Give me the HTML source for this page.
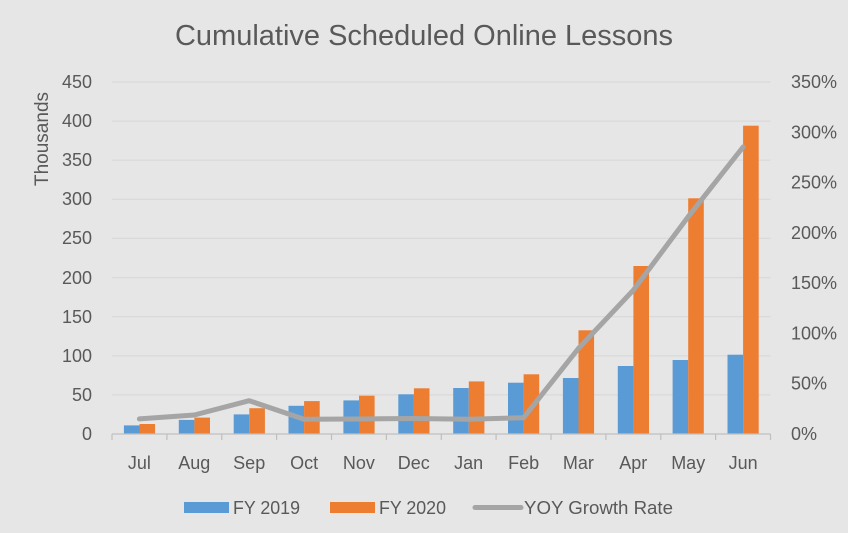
<!DOCTYPE html>
<html><head><meta charset="utf-8"><style>
html,body{margin:0;padding:0;background:#e7e6e6;}
svg{display:block;font-family:"Liberation Sans",Arial,sans-serif;}
</style></head><body>
<svg width="848" height="533" viewBox="0 0 848 533" xmlns="http://www.w3.org/2000/svg">
<rect x="0" y="0" width="848" height="533" fill="#e7e6e6"/>
<text x="424" y="45" text-anchor="middle" font-size="29" fill="#595959" textLength="498" lengthAdjust="spacingAndGlyphs">Cumulative Scheduled Online Lessons</text>
<g stroke="#d9d9d9" stroke-width="1.2">
<line x1="112" y1="82" x2="770.5" y2="82"/>
<line x1="112" y1="121.1" x2="770.5" y2="121.1"/>
<line x1="112" y1="160.2" x2="770.5" y2="160.2"/>
<line x1="112" y1="199.3" x2="770.5" y2="199.3"/>
<line x1="112" y1="238.4" x2="770.5" y2="238.4"/>
<line x1="112" y1="277.6" x2="770.5" y2="277.6"/>
<line x1="112" y1="316.7" x2="770.5" y2="316.7"/>
<line x1="112" y1="355.8" x2="770.5" y2="355.8"/>
<line x1="112" y1="394.9" x2="770.5" y2="394.9"/>
</g>
<g fill="#595959" font-size="18" text-anchor="end">
<text x="92" y="88">450</text>
<text x="92" y="127">400</text>
<text x="92" y="166">350</text>
<text x="92" y="205">300</text>
<text x="92" y="244">250</text>
<text x="92" y="284">200</text>
<text x="92" y="323">150</text>
<text x="92" y="362">100</text>
<text x="92" y="401">50</text>
<text x="92" y="440">0</text>
</g>
<g fill="#595959" font-size="18" text-anchor="start">
<text x="791" y="88">350%</text>
<text x="791" y="138.3">300%</text>
<text x="791" y="188.6">250%</text>
<text x="791" y="238.9">200%</text>
<text x="791" y="289">150%</text>
<text x="791" y="339.4">100%</text>
<text x="791" y="389.7">50%</text>
<text x="791" y="440">0%</text>
</g>
<text transform="translate(48,139) rotate(-90)" text-anchor="middle" font-size="19" fill="#595959">Thousands</text>
<g id="bars"></g>
<g>
<!-- bars: center c = 112 + 54.875*(i+0.5); scale 0.7822 px/unit -->
<rect x="123.9" y="425.4" width="15.6" height="8.6" fill="#5b9bd5"/><rect x="139.5" y="424.0" width="15.6" height="10.0" fill="#ed7d31"/>
<rect x="178.8" y="419.9" width="15.6" height="14.1" fill="#5b9bd5"/><rect x="194.4" y="417.6" width="15.6" height="16.4" fill="#ed7d31"/>
<rect x="233.7" y="414.4" width="15.6" height="19.6" fill="#5b9bd5"/><rect x="249.3" y="408.2" width="15.6" height="25.8" fill="#ed7d31"/>
<rect x="288.5" y="405.8" width="15.6" height="28.2" fill="#5b9bd5"/><rect x="304.1" y="401.1" width="15.6" height="32.9" fill="#ed7d31"/>
<rect x="343.4" y="400.4" width="15.6" height="33.6" fill="#5b9bd5"/><rect x="359.0" y="395.7" width="15.6" height="38.3" fill="#ed7d31"/>
<rect x="398.3" y="394.3" width="15.6" height="39.7" fill="#5b9bd5"/><rect x="413.9" y="388.3" width="15.6" height="45.7" fill="#ed7d31"/>
<rect x="453.2" y="388.0" width="15.6" height="46.0" fill="#5b9bd5"/><rect x="468.8" y="381.4" width="15.6" height="52.6" fill="#ed7d31"/>
<rect x="508.0" y="382.7" width="15.6" height="51.3" fill="#5b9bd5"/><rect x="523.6" y="374.3" width="15.6" height="59.7" fill="#ed7d31"/>
<rect x="562.9" y="378.0" width="15.6" height="56.0" fill="#5b9bd5"/><rect x="578.5" y="330.3" width="15.6" height="103.7" fill="#ed7d31"/>
<rect x="617.8" y="366.0" width="15.6" height="68.0" fill="#5b9bd5"/><rect x="633.4" y="266.0" width="15.6" height="168.0" fill="#ed7d31"/>
<rect x="672.6" y="360.0" width="15.6" height="74.0" fill="#5b9bd5"/><rect x="688.2" y="198.3" width="15.6" height="235.7" fill="#ed7d31"/>
<rect x="727.5" y="354.7" width="15.6" height="79.3" fill="#5b9bd5"/><rect x="743.1" y="125.7" width="15.6" height="308.3" fill="#ed7d31"/>
</g>
<g stroke="#bfbfbf" stroke-width="1.2">
<line x1="112" y1="434" x2="770.5" y2="434"/>
<line x1="112" y1="434" x2="112" y2="440"/>
<line x1="166.9" y1="434" x2="166.9" y2="440"/>
<line x1="221.8" y1="434" x2="221.8" y2="440"/>
<line x1="276.6" y1="434" x2="276.6" y2="440"/>
<line x1="331.5" y1="434" x2="331.5" y2="440"/>
<line x1="386.4" y1="434" x2="386.4" y2="440"/>
<line x1="441.3" y1="434" x2="441.3" y2="440"/>
<line x1="496.1" y1="434" x2="496.1" y2="440"/>
<line x1="551" y1="434" x2="551" y2="440"/>
<line x1="605.9" y1="434" x2="605.9" y2="440"/>
<line x1="660.8" y1="434" x2="660.8" y2="440"/>
<line x1="715.6" y1="434" x2="715.6" y2="440"/>
<line x1="770.5" y1="434" x2="770.5" y2="440"/>
</g>
<polyline fill="none" stroke="#a5a5a5" stroke-width="5" stroke-linejoin="round" stroke-linecap="round"
points="139.4,418.9 194.3,415.0 249.2,400.7 304.1,419.3 358.9,419.0 413.8,418.5 468.7,419.2 523.6,417.7 578.4,348.5 633.3,290.2 688.2,216.7 743.1,147.0"/>
<g fill="#595959" font-size="18" text-anchor="middle">
<text x="139.4" y="469">Jul</text>
<text x="194.3" y="469">Aug</text>
<text x="249.2" y="469">Sep</text>
<text x="304.1" y="469">Oct</text>
<text x="358.9" y="469">Nov</text>
<text x="413.8" y="469">Dec</text>
<text x="468.7" y="469">Jan</text>
<text x="523.6" y="469">Feb</text>
<text x="578.4" y="469">Mar</text>
<text x="633.3" y="469">Apr</text>
<text x="688.2" y="469">May</text>
<text x="743.1" y="469">Jun</text>
</g>
<rect x="184" y="502" width="45" height="11" fill="#5b9bd5"/>
<text x="233" y="514" font-size="18" fill="#595959" textLength="67" lengthAdjust="spacingAndGlyphs">FY 2019</text>
<rect x="330" y="502" width="45" height="11" fill="#ed7d31"/>
<text x="379" y="514" font-size="18" fill="#595959" textLength="67" lengthAdjust="spacingAndGlyphs">FY 2020</text>
<line x1="475" y1="507.5" x2="521" y2="507.5" stroke="#a5a5a5" stroke-width="5" stroke-linecap="round"/>
<text x="524" y="514" font-size="18" fill="#595959" textLength="149" lengthAdjust="spacingAndGlyphs">YOY Growth Rate</text>
</svg>
</body></html>
